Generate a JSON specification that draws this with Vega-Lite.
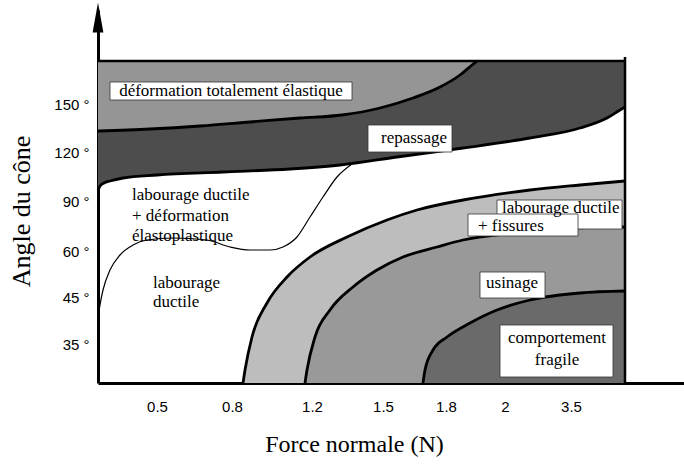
{
  "$schema": "https://vega.github.io/schema/vega-lite/v6.json",
  "width": 586,
  "height": 373,
  "autosize": "none",
  "padding": {"left": 98, "top": 10, "right": 0, "bottom": 86},
  "background": "white",
  "config": {
    "view": {"stroke": null},
    "axis": {"grid": false, "ticks": false, "domainColor": "black", "domainWidth": 3, "labelFont": "Liberation Sans", "labelFontSize": 15, "labelColor": "black", "titleFont": "Liberation Serif", "titleFontWeight": "normal", "titleColor": "black"}
  },
  "datasets": {
    "regions": [
      {"r": "cross", "u": 0, "v": 19.3}, {"r": "cross", "u": 0.2, "v": 19.7}, {"r": "cross", "u": 0.6, "v": 20.0}, {"r": "cross", "u": 1.2, "v": 20.2}, {"r": "cross", "u": 2.5, "v": 20.5}, {"r": "cross", "u": 5.9, "v": 20.8}, {"r": "cross", "u": 12.5, "v": 21.1}, {"r": "cross", "u": 19.2, "v": 21.4}, {"r": "cross", "u": 24.2, "v": 21.8}, {"r": "cross", "u": 29.9, "v": 22.6}, {"r": "cross", "u": 36.5, "v": 23.5}, {"r": "cross", "u": 43.2, "v": 24.5}, {"r": "cross", "u": 48.2, "v": 25.5}, {"r": "cross", "u": 50.9, "v": 26.5}, {"r": "cross", "u": 52.2, "v": 27.3}, {"r": "cross", "u": 52.7, "v": 27.6},
      {"r": "hatch", "u": 0, "v": 25.2}, {"r": "hatch", "u": 5.2, "v": 25.4}, {"r": "hatch", "u": 10.2, "v": 25.7}, {"r": "hatch", "u": 15.2, "v": 26.1}, {"r": "hatch", "u": 20.2, "v": 26.5}, {"r": "hatch", "u": 24.4, "v": 26.8}, {"r": "hatch", "u": 28.2, "v": 27.5}, {"r": "hatch", "u": 31.5, "v": 28.5}, {"r": "hatch", "u": 34.2, "v": 29.6}, {"r": "hatch", "u": 36.2, "v": 30.8}, {"r": "hatch", "u": 37.4, "v": 31.8}, {"r": "hatch", "u": 37.9, "v": 32.2},
      {"r": "light", "u": 14.5, "v": 0}, {"r": "light", "u": 14.7, "v": 1.3}, {"r": "light", "u": 15.4, "v": 4.6}, {"r": "light", "u": 16.9, "v": 8.0}, {"r": "light", "u": 18.9, "v": 10.6}, {"r": "light", "u": 21.2, "v": 12.6}, {"r": "light", "u": 24.9, "v": 14.6}, {"r": "light", "u": 28.9, "v": 16.3}, {"r": "light", "u": 31.9, "v": 17.3}, {"r": "light", "u": 36.5, "v": 18.3}, {"r": "light", "u": 43.2, "v": 19.3}, {"r": "light", "u": 48.2, "v": 19.8}, {"r": "light", "u": 52.7, "v": 20.2},
      {"r": "medium", "u": 20.7, "v": 0}, {"r": "medium", "u": 20.9, "v": 1.3}, {"r": "medium", "u": 21.7, "v": 4.6}, {"r": "medium", "u": 23.2, "v": 7.3}, {"r": "medium", "u": 25.5, "v": 9.6}, {"r": "medium", "u": 27.9, "v": 11.3}, {"r": "medium", "u": 30.5, "v": 12.6}, {"r": "medium", "u": 33.9, "v": 13.6}, {"r": "medium", "u": 36.5, "v": 14.3}, {"r": "medium", "u": 41.5, "v": 15.0}, {"r": "medium", "u": 46.5, "v": 15.5}, {"r": "medium", "u": 52.7, "v": 15.6},
      {"r": "dark", "u": 32.5, "v": 0}, {"r": "dark", "u": 32.7, "v": 1.3}, {"r": "dark", "u": 33.5, "v": 3.3}, {"r": "dark", "u": 34.9, "v": 4.6}, {"r": "dark", "u": 37.2, "v": 6.0}, {"r": "dark", "u": 39.9, "v": 7.3}, {"r": "dark", "u": 43.2, "v": 8.3}, {"r": "dark", "u": 48.2, "v": 9.0}, {"r": "dark", "u": 52.7, "v": 9.2},
      {"r": "thin", "u": 0.05, "v": 6.8}, {"r": "thin", "u": 0.2, "v": 7.8}, {"r": "thin", "u": 0.5, "v": 9.3}, {"r": "thin", "u": 1.2, "v": 11.3}, {"r": "thin", "u": 2.2, "v": 12.8}, {"r": "thin", "u": 3.5, "v": 13.8}, {"r": "thin", "u": 4.9, "v": 14.3}, {"r": "thin", "u": 7.5, "v": 14.5}, {"r": "thin", "u": 10.9, "v": 14.3}, {"r": "thin", "u": 13.2, "v": 13.6}, {"r": "thin", "u": 15.2, "v": 13.3}, {"r": "thin", "u": 17.2, "v": 13.3}, {"r": "thin", "u": 18.5, "v": 13.6}, {"r": "thin", "u": 19.9, "v": 14.6}, {"r": "thin", "u": 21.2, "v": 16.6}, {"r": "thin", "u": 22.5, "v": 18.6}, {"r": "thin", "u": 23.9, "v": 20.6}, {"r": "thin", "u": 25.4, "v": 21.9}
    ],
    "boxes": [
      {"x1": 1.2, "x2": 25.4, "y1": 28.3, "y2": 30.1},
      {"x1": 27.0, "x2": 35.4, "y1": 23.1, "y2": 25.8},
      {"x1": 39.9, "x2": 52.4, "y1": 15.4, "y2": 18.3},
      {"x1": 37.0, "x2": 48.0, "y1": 14.7, "y2": 16.9},
      {"x1": 38.2, "x2": 44.7, "y1": 8.5, "y2": 11.1},
      {"x1": 40.2, "x2": 51.5, "y1": 0.6, "y2": 5.8}
    ],
    "labels": [
      {"t": "déformation totalement élastique", "u": 13.3, "v": 28.7, "a": "c"},
      {"t": "repassage", "u": 31.6, "v": 24.0, "a": "c"},
      {"t": "usinage", "u": 41.4, "v": 9.5, "a": "c"},
      {"t": "comportement", "u": 45.9, "v": 4.0, "a": "c"},
      {"t": "fragile", "u": 45.9, "v": 1.8, "a": "c"},
      {"t": "labourage ductile", "u": 3.4, "v": 18.3, "a": "l"},
      {"t": "+ déformation", "u": 3.4, "v": 16.2, "a": "l"},
      {"t": "élastoplastique", "u": 3.4, "v": 14.2, "a": "l"},
      {"t": "labourage", "u": 5.5, "v": 9.5, "a": "l"},
      {"t": "ductile", "u": 5.5, "v": 7.6, "a": "l"},
      {"t": "labourage ductile", "u": 40.4, "v": 17.0, "a": "l"},
      {"t": "+ fissures", "u": 38.0, "v": 15.2, "a": "l"}
    ],
    "one": [{}]
  },
  "layer": [
    {
      "data": {"name": "regions"},
      "transform": [{"filter": "datum.r == 'cross'"}],
      "mark": {"type": "area", "interpolate": "monotone", "color": "#4d4d4d"},
      "encoding": {
        "x": {"field": "u", "type": "quantitative", "scale": {"domain": [0, 58.6], "nice": false, "zero": false},
          "axis": {"title": "Force normale (N)", "values": [5.9, 13.4, 21.4, 28.5, 34.8, 40.7, 47.3], "labelExpr": "datum.value < 9 ? '0.5' : datum.value < 17 ? '0.8' : datum.value < 25 ? '1.2' : datum.value < 31 ? '1.5' : datum.value < 38 ? '1.8' : datum.value < 44 ? '2' : '3.5'", "labelPadding": 16, "labelBaseline": "top", "titleFontSize": 24, "titleX": 256, "titleY": 68, "titleBaseline": "alphabetic", "titleAnchor": "middle", "titleAlign": "center"}},
        "y": {"field": "v", "type": "quantitative", "scale": {"domain": [0, 37.3], "nice": false, "zero": false},
          "axis": {"title": "Angle du cône", "values": [3.9, 8.6, 13.2, 18.2, 23.1, 27.9], "labelExpr": "datum.value < 6 ? '35 °' : datum.value < 11 ? '45 °' : datum.value < 16 ? '60 °' : datum.value < 20 ? '90 °' : datum.value < 25 ? '120 °' : '150 °'", "labelPadding": 9, "labelBaseline": "middle", "titleFontSize": 26, "titleAngle": -90, "titleX": -69, "titleY": 201, "titleBaseline": "alphabetic", "titleAlign": "center"}},
        "y2": {"datum": 32.2}
      }
    },
    {
      "data": {"name": "regions"},
      "transform": [{"filter": "datum.r == 'hatch'"}],
      "mark": {"type": "area", "interpolate": "monotone", "color": "#959595"},
      "encoding": {"x": {"field": "u", "type": "quantitative"}, "y": {"field": "v", "type": "quantitative"}, "y2": {"datum": 32.2}}
    },
    {
      "data": {"name": "regions"},
      "transform": [{"filter": "datum.r == 'light'"}],
      "mark": {"type": "area", "interpolate": "monotone", "color": "#bdbdbd"},
      "encoding": {"x": {"field": "u", "type": "quantitative"}, "y": {"field": "v", "type": "quantitative"}, "y2": {"datum": 0}}
    },
    {
      "data": {"name": "regions"},
      "transform": [{"filter": "datum.r == 'medium'"}],
      "mark": {"type": "area", "interpolate": "monotone", "color": "#999999"},
      "encoding": {"x": {"field": "u", "type": "quantitative"}, "y": {"field": "v", "type": "quantitative"}, "y2": {"datum": 0}}
    },
    {
      "data": {"name": "regions"},
      "transform": [{"filter": "datum.r == 'dark'"}],
      "mark": {"type": "area", "interpolate": "monotone", "color": "#6a6a6a"},
      "encoding": {"x": {"field": "u", "type": "quantitative"}, "y": {"field": "v", "type": "quantitative"}, "y2": {"datum": 0}}
    },
    {
      "data": {"name": "regions"},
      "transform": [{"filter": "datum.r != 'thin'"}],
      "mark": {"type": "line", "interpolate": "monotone", "color": "black", "strokeWidth": 2.8},
      "encoding": {"x": {"field": "u", "type": "quantitative"}, "y": {"field": "v", "type": "quantitative"}, "detail": {"field": "r"}}
    },
    {
      "data": {"name": "regions"},
      "transform": [{"filter": "datum.r == 'thin'"}],
      "mark": {"type": "line", "interpolate": "monotone", "color": "black", "strokeWidth": 1.2},
      "encoding": {"x": {"field": "u", "type": "quantitative"}, "y": {"field": "v", "type": "quantitative"}}
    },
    {
      "data": {"name": "one"},
      "mark": {"type": "rule", "color": "black", "strokeWidth": 2.5},
      "encoding": {"x": {"datum": 0}, "x2": {"datum": 52.7}, "y": {"datum": 32.2}}
    },
    {
      "data": {"name": "one"},
      "mark": {"type": "rule", "color": "black", "strokeWidth": 2.5},
      "encoding": {"x": {"datum": 52.7}, "y": {"datum": 0}, "y2": {"datum": 32.6}}
    },
    {
      "data": {"name": "boxes"},
      "mark": {"type": "rect", "fill": "white", "stroke": "#333333", "strokeWidth": 0.8},
      "encoding": {"x": {"field": "x1", "type": "quantitative"}, "x2": {"field": "x2"}, "y": {"field": "y1", "type": "quantitative"}, "y2": {"field": "y2"}}
    },
    {
      "data": {"name": "labels"},
      "transform": [{"filter": "datum.a == 'c'"}],
      "mark": {"type": "text", "font": "Liberation Serif", "fontSize": 17, "align": "center", "baseline": "alphabetic", "color": "black"},
      "encoding": {"x": {"field": "u", "type": "quantitative"}, "y": {"field": "v", "type": "quantitative"}, "text": {"field": "t"}}
    },
    {
      "data": {"name": "labels"},
      "transform": [{"filter": "datum.a == 'l'"}],
      "mark": {"type": "text", "font": "Liberation Serif", "fontSize": 17, "align": "left", "baseline": "alphabetic", "color": "black"},
      "encoding": {"x": {"field": "u", "type": "quantitative"}, "y": {"field": "v", "type": "quantitative"}, "text": {"field": "t"}}
    },
    {
      "data": {"name": "one"},
      "mark": {"type": "point", "shape": "M0,-1L0.36,1L-0.36,1Z", "filled": true, "color": "black", "size": 900, "opacity": 1, "clip": false},
      "encoding": {"x": {"datum": 0}, "y": {"datum": 36.55}}
    }
  ]
}
